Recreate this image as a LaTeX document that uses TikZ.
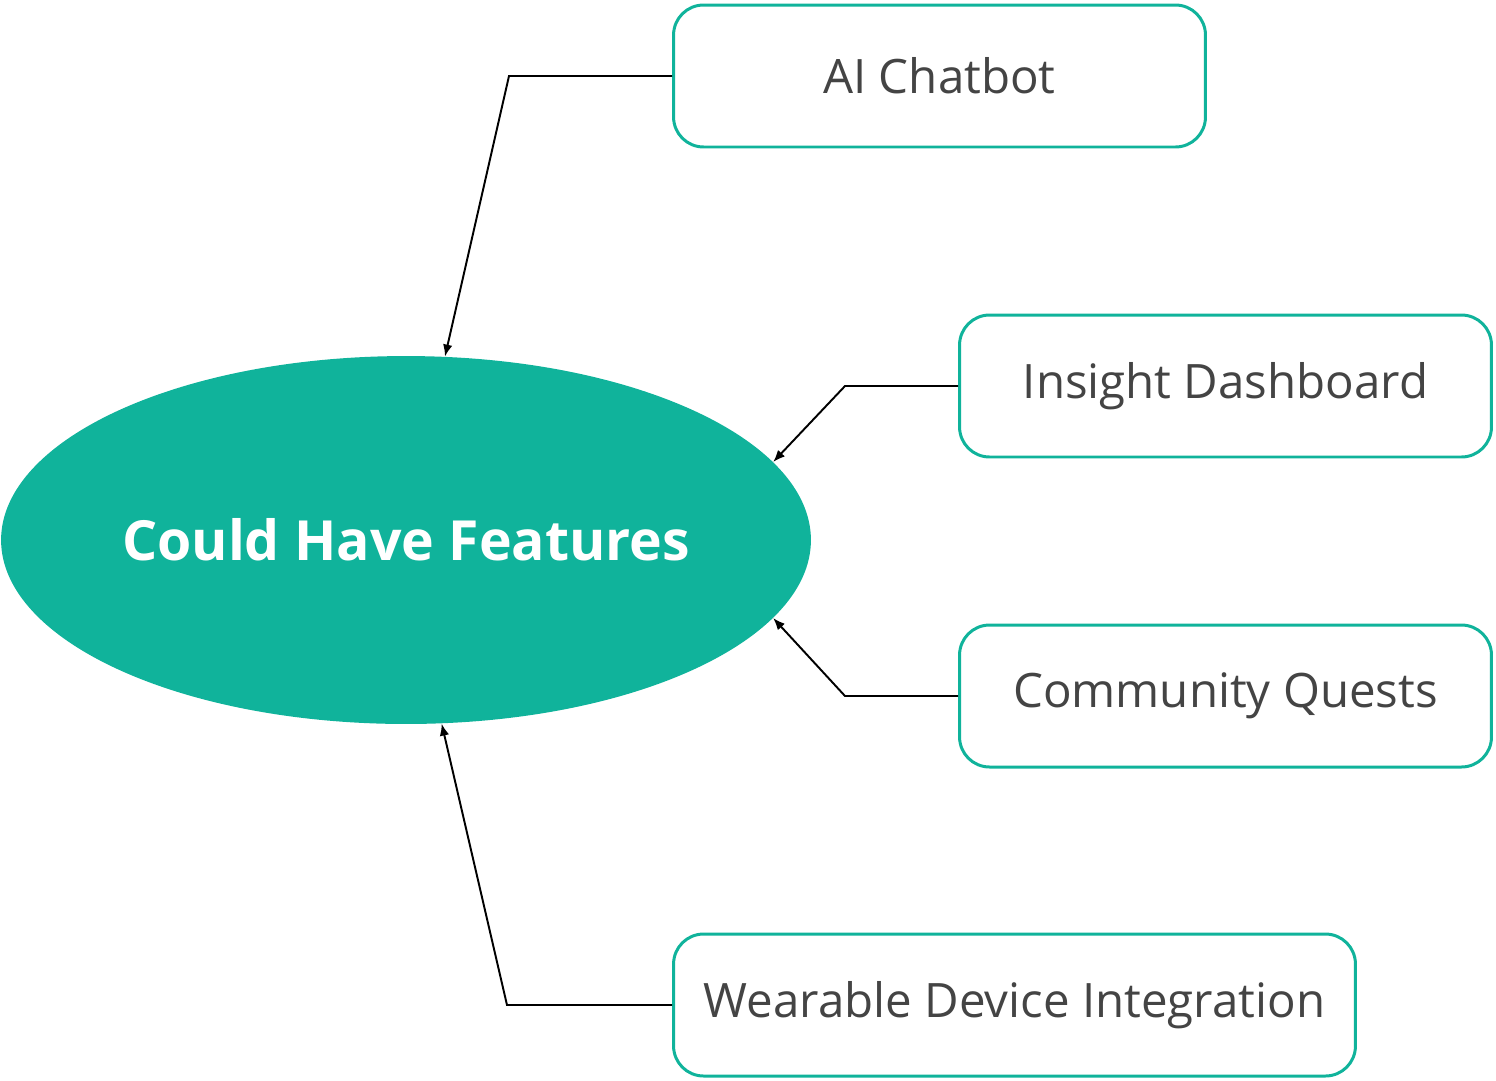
\documentclass[tikz,border=0pt]{standalone}
\usepackage{fontspec}
\setmainfont{Open Sans}
\usetikzlibrary{arrows.meta,shapes.geometric}
\definecolor{featteal}{HTML}{10B39B}
\definecolor{labelgray}{HTML}{444444}
\tikzset{
  featbox/.style={draw=featteal,line width=1.7pt,rounded corners=0.6cm,fill=white,
    minimum height=2.84cm,text=labelgray,font=\fontsize{27}{31}\selectfont},
  link/.style={->,line width=1.1pt,black}
}

\begin{document}
\begin{tikzpicture}[x=0.02cm,y=-0.02cm,>={Latex[length=0.24cm,width=0.19cm]}]
  \useasboundingbox (0,0) rectangle (1496,1080);
  \node[ellipse,fill=featteal,minimum width=16.2cm,minimum height=7.36cm,inner sep=0pt,
    text=white,font=\bfseries\fontsize{31.5}{35}\selectfont] (could) at (406,540) {Could Have Features};
  \node[featbox,minimum width=10.64cm] (chat) at (939.5,76) {AI Chatbot};
  \node[featbox,minimum width=10.64cm] (insight) at (1225.5,386) {Insight Dashboard};
  \node[featbox,minimum width=10.64cm] (quests) at (1225.5,696) {Community Quests};
  \node[featbox,minimum width=13.64cm] (wear) at (1014.5,1005) {Wearable Device Integration};
  \coordinate (chatbend) at (509,76);
  \coordinate (insightbend) at (845,386);
  \coordinate (questsbend) at (845,696);
  \coordinate (wearbend) at (507,1005);
  \draw[link] (chat.west) -- (chatbend) -- (could.78.6);
  \draw[link] (insight.west) -- (insightbend) -- (could.12.2);
  \draw[link] (quests.west) -- (questsbend) -- (could.-12.3);
  \draw[link] (wear.west) -- (wearbend) -- (could.-79.2);
\end{tikzpicture}
\end{document}
